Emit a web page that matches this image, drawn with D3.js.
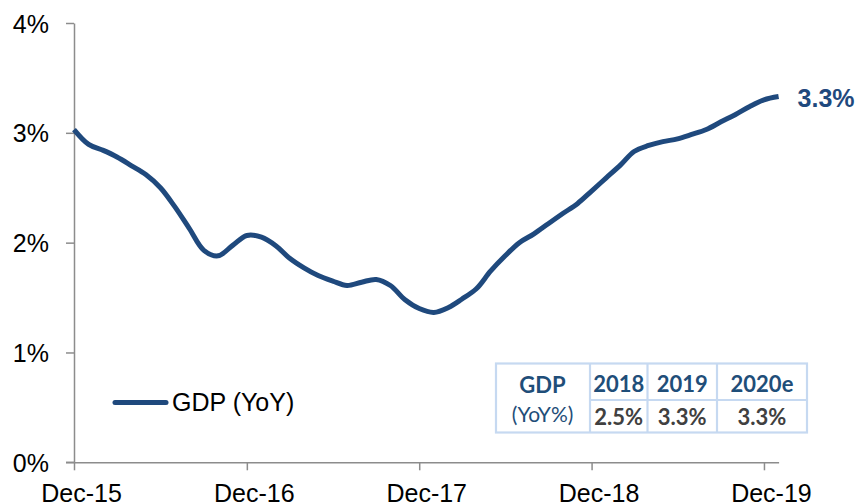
<!DOCTYPE html>
<html>
<head>
<meta charset="utf-8">
<script src="https://cdn.jsdelivr.net/npm/d3@7"></script>
<style>
  html, body { margin: 0; padding: 0; background: #ffffff; }
  svg { display: block; }
</style>
</head>
<body>
<svg id="chart" width="860" height="504"></svg>
<script>
// ---- Data (monthly, Dec-15 .. Jan-20, GDP YoY %) ----
const months = ["2015-12",
  "2016-01","2016-02","2016-03","2016-04","2016-05","2016-06","2016-07","2016-08","2016-09","2016-10","2016-11","2016-12",
  "2017-01","2017-02","2017-03","2017-04","2017-05","2017-06","2017-07","2017-08","2017-09","2017-10","2017-11","2017-12",
  "2018-01","2018-02","2018-03","2018-04","2018-05","2018-06","2018-07","2018-08","2018-09","2018-10","2018-11","2018-12",
  "2019-01","2019-02","2019-03","2019-04","2019-05","2019-06","2019-07","2019-08","2019-09","2019-10","2019-11","2019-12",
  "2020-01"];
const gdpYoY = [3.03,
  2.895, 2.84, 2.78, 2.70, 2.62, 2.50, 2.33, 2.13, 1.93, 1.88, 1.975, 2.065,
  2.05, 1.97, 1.86, 1.77, 1.70, 1.65, 1.61, 1.64, 1.665, 1.61, 1.48, 1.40,
  1.365, 1.41, 1.485, 1.58, 1.74, 1.88, 2.00, 2.08, 2.175, 2.265, 2.355, 2.47,
  2.59, 2.71, 2.83, 2.885, 2.92, 2.945, 2.985, 3.03, 3.10, 3.165, 3.24, 3.30,
  3.33];
const xTickMonths = ["2015-12","2016-12","2017-12","2018-12","2019-12"];
const yTicks = [0, 1, 2, 3, 4];
const seriesName = "GDP (YoY)";
const lastLabel = "3.3%";
const tableHeader = ["GDP", "(YoY%)"];
const tableYears = ["2018", "2019", "2020e"];
const tableValues = ["2.5%", "3.3%", "3.3%"];

// ---- Setup ----
const parse = d3.timeParse("%Y-%m");
const data = months.map((d, i) => ({ date: parse(d), value: gdpYoY[i] }));

const svg = d3.select("#chart");
const lineColor = "#1f497d";
const axisColor = "#8c8c8c";
const font = "'Liberation Sans', Arial, sans-serif";

const x = d3.scaleTime()
  .domain([parse("2015-12"), parse("2020-01")])
  .range([74, 778.6]);
const y = d3.scaleLinear().domain([0, 4]).range([462.3, 23]);

// Y axis
const yAxis = svg.append("g")
  .attr("transform", "translate(74,0)")
  .call(d3.axisLeft(y).tickValues(yTicks).tickFormat(d => d + "%").tickSize(8).tickSizeOuter(0));
yAxis.select(".domain").attr("stroke", axisColor).attr("stroke-width", 1.5);
yAxis.selectAll(".tick line").attr("stroke", axisColor).attr("stroke-width", 1.5);
yAxis.selectAll(".tick text")
  .attr("x", -25).attr("dy", "0.36em")
  .attr("font-family", font).attr("font-size", 25).attr("fill", "#000");

// X axis
const xAxis = svg.append("g")
  .attr("transform", "translate(0,462.3)")
  .call(d3.axisBottom(x).tickValues(xTickMonths.map(parse))
    .tickFormat(d3.timeFormat("%b-%y")).tickSize(8).tickSizeOuter(0));
xAxis.select(".domain").attr("stroke", axisColor).attr("stroke-width", 1.5);
xAxis.selectAll(".tick line").attr("stroke", axisColor).attr("stroke-width", 1.5);
xAxis.selectAll(".tick text")
  .attr("y", 22).attr("dy", "0.71em").attr("dx", 7)
  .attr("font-family", font).attr("font-size", 25).attr("fill", "#000");
svg.append("line").attr("x1", 66).attr("x2", 74).attr("y1", 462.3).attr("y2", 462.3)
  .attr("stroke", axisColor).attr("stroke-width", 1.5);

// Line
const line = d3.line()
  .x(d => x(d.date))
  .y(d => y(d.value))
  .curve(d3.curveCatmullRom.alpha(0.5));
svg.append("path")
  .datum(data)
  .attr("d", line)
  .attr("fill", "none")
  .attr("stroke", lineColor)
  .attr("stroke-width", 5)
  .attr("stroke-linejoin", "round");

// End label
const last = data[data.length - 1];
svg.append("text")
  .attr("x", x(last.date) + 19)
  .attr("y", y(last.value) + 10)
  .attr("font-family", font).attr("font-weight", "bold").attr("font-size", 25)
  .attr("fill", lineColor)
  .text(lastLabel);

// Legend
svg.append("line")
  .attr("x1", 115).attr("x2", 166).attr("y1", 402.5).attr("y2", 402.5)
  .attr("stroke", lineColor).attr("stroke-width", 5).attr("stroke-linecap", "round");
svg.append("text")
  .attr("x", 172).attr("y", 410.5)
  .attr("font-family", font).attr("font-size", 25).attr("fill", "#000")
  .text(seriesName);

// Table
const tFont = "Lato, 'Open Sans', sans-serif";
const tBlue = "#1f4e79";
const border = "#c6d9f1";
const colX = [496, 590, 647.5, 717, 807];
const rowY = [363.5, 400, 432.5];
const tbl = svg.append("g");
tbl.append("rect")
  .attr("x", colX[0]).attr("y", rowY[0])
  .attr("width", colX[4] - colX[0]).attr("height", rowY[2] - rowY[0])
  .attr("fill", "#fff").attr("stroke", border).attr("stroke-width", 2.2);
[1, 2, 3].forEach(i => {
  tbl.append("line").attr("x1", colX[i]).attr("x2", colX[i])
    .attr("y1", rowY[0]).attr("y2", rowY[2]).attr("stroke", border).attr("stroke-width", 2.2);
});
tbl.append("line").attr("x1", colX[1]).attr("x2", colX[4])
  .attr("y1", rowY[1]).attr("y2", rowY[1]).attr("stroke", border).attr("stroke-width", 2.2);

tbl.append("text").attr("x", (colX[0] + colX[1]) / 2 - 0.5).attr("y", 392.5)
  .attr("text-anchor", "middle").attr("font-family", tFont).attr("font-weight", "bold")
  .attr("font-size", 22).attr("fill", tBlue).text(tableHeader[0]);
tbl.append("text").attr("x", (colX[0] + colX[1]) / 2 - 0.5).attr("y", 421.5)
  .attr("text-anchor", "middle").attr("font-family", tFont)
  .attr("font-size", 21).attr("fill", tBlue).text(tableHeader[1]);
tableYears.forEach((t, i) => {
  tbl.append("text").attr("x", (colX[i + 1] + colX[i + 2]) / 2).attr("y", 391.5)
    .attr("text-anchor", "middle").attr("font-family", tFont).attr("font-weight", "bold")
    .attr("font-size", 22).attr("fill", tBlue).text(t);
});
tableValues.forEach((t, i) => {
  tbl.append("text").attr("x", (colX[i + 1] + colX[i + 2]) / 2).attr("y", 424.5)
    .attr("text-anchor", "middle").attr("font-family", tFont).attr("font-weight", "bold")
    .attr("font-size", 22).attr("fill", "#404040").text(t);
});
</script>
</body>
</html>
